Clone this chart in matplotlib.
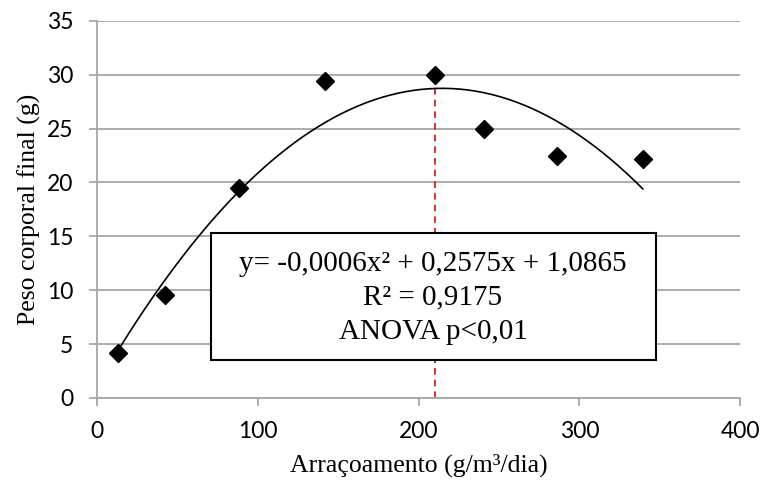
import numpy as np
import matplotlib.pyplot as plt
from matplotlib.patches import Rectangle

# data
racao = [13, 42.5, 88.5, 142, 210.5, 240.5, 286, 339.5]
peso = [4.2, 9.55, 19.45, 29.4, 30.0, 25.0, 22.5, 22.2]
x_otimo = 210.5
eq_lines = ["y= -0,0006x² + 0,2575x + 1,0865", "R² = 0,9175", "ANOVA p<0,01"]

SERIF = ['Liberation Serif', 'DejaVu Serif']
SANS = ['Lato', 'DejaVu Sans']
GRID = '#a6a6a6'

fig = plt.figure(figsize=(7.63, 4.87), dpi=100)
ax = fig.add_axes([0.127, 0.183, 0.843, 0.774])

# quadratic trendline fitted to the points
coef = np.polyfit(racao, peso, 2)
xs = np.linspace(min(racao), max(racao), 200)
ax.plot(xs, np.polyval(coef, xs), color='black', lw=1.2, zorder=3)

ax.plot([x_otimo, x_otimo], [0, peso[4]], color='#d01010', lw=1.2,
        ls=(0, (4, 3)), zorder=2)

ax.plot(racao, peso, ls='none', marker='D', ms=9, color='black', zorder=5)

ax.set_xlim(0, 400)
ax.set_ylim(0, 35)
ax.set_xticks(np.arange(0, 401, 100))
ax.set_yticks(np.arange(0, 36, 5))
ax.yaxis.grid(True, color=GRID, lw=1.3)
ax.set_axisbelow(True)
for s in ['top', 'right']:
    ax.spines[s].set_visible(False)
for s in ['left', 'bottom']:
    ax.spines[s].set_color(GRID)
    ax.spines[s].set_linewidth(1.3)
ax.tick_params(axis='both', color=GRID, width=1.3, length=6, direction='out',
               labelsize=16.5)
ax.tick_params(axis='y', pad=11)
ax.tick_params(axis='x', pad=11)
for lab in ax.get_xticklabels() + ax.get_yticklabels():
    lab.set_family(SANS)

ax.set_xlabel('Arraçoamento (g/m³/dia)', family=SERIF, fontsize=18.5, labelpad=8)
ax.set_ylabel('Peso corporal final (g)', family=SERIF, fontsize=18.5, labelpad=4)

# equation box
ax.add_patch(Rectangle((71, 3.55), 276.5, 11.8, facecolor='white',
                       edgecolor='black', lw=1.5, zorder=4))
ax.text(209, 9.3, '\n'.join(eq_lines), ha='center', va='center',
        family=SERIF, fontsize=21, linespacing=1.4, zorder=6)

fig.savefig('out.png', dpi=100)
